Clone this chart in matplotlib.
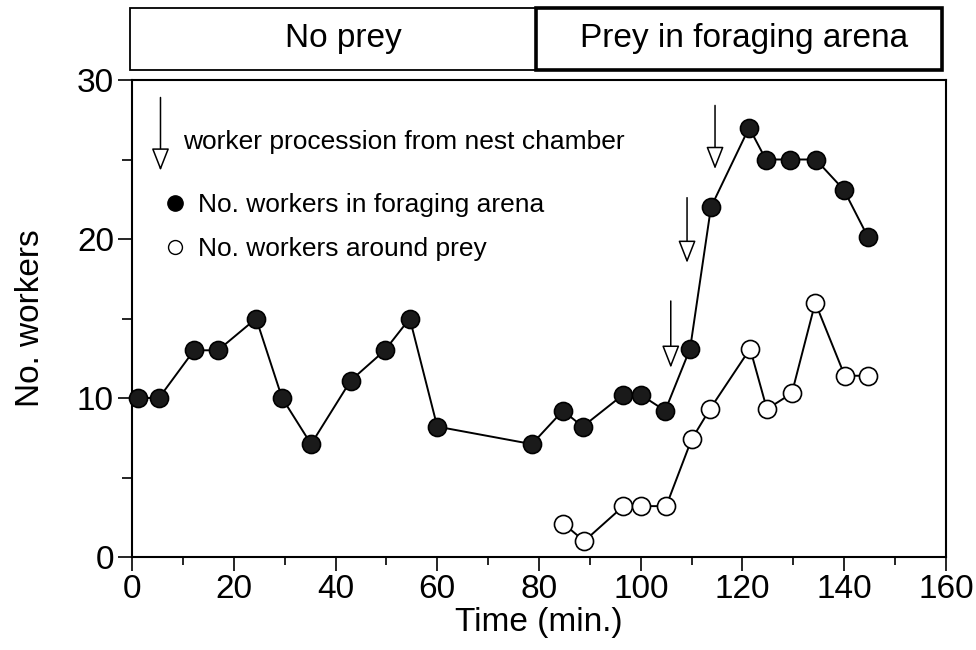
import numpy as np
import matplotlib.pyplot as plt
from matplotlib.lines import Line2D
from matplotlib.patches import Rectangle
from matplotlib.ticker import MultipleLocator

plt.rcParams['font.family'] = ['Liberation Sans', 'DejaVu Sans']

# workers in foraging arena (filled)
t_arena = [1.2, 5.3, 12.2, 16.9, 24.4, 29.5, 35.2, 43.0, 49.7, 54.6, 60.0,
           78.6, 84.7, 88.6, 96.5, 100.0, 104.8, 109.7, 113.8, 121.3, 124.6,
           129.3, 134.4, 139.9, 144.7]
n_arena = [10, 10, 13, 13, 15, 10, 7.1, 11.1, 13, 15, 8.2,
           7.1, 9.2, 8.2, 10.2, 10.2, 9.2, 13.1, 22, 27, 25,
           25, 25, 23.1, 20.1]

# workers around prey (open)
t_prey = [84.8, 88.9, 96.6, 100.0, 105.0, 110.0, 113.6, 121.5, 124.8, 129.7,
          134.3, 140.1, 144.7]
n_prey = [2.1, 1.0, 3.2, 3.2, 3.2, 7.4, 9.3, 13.1, 9.3, 10.3, 16.0, 11.4, 11.4]

# worker procession arrows
arrow_x = [5.6, 105.9, 109.1, 114.6]
arrow_top = [28.9, 16.1, 22.6, 28.4]
arrow_tip = [24.3, 11.9, 18.5, 24.4]

phases = ["No prey", "Prey in foraging arena"]


def main():
    fig = plt.figure(figsize=(9.76, 6.5), dpi=100)
    ax = fig.add_axes([132 / 976, 1 - 557 / 650, (946 - 132) / 976, (557 - 80) / 650])

    ax.plot(t_arena, n_arena, '-o', color='black', lw=1.4, ms=13,
            mfc='#1a1a1a', mec='black', mew=1.2, zorder=3, clip_on=False)
    ax.plot(t_prey, n_prey, '-o', color='black', lw=1.4, ms=13,
            mfc='white', mec='black', mew=1.2, zorder=3)

    for x, top, tip in zip(arrow_x, arrow_top, arrow_tip):
        ax.annotate('', xy=(x, tip), xytext=(x, top),
                    arrowprops=dict(arrowstyle='-|>,head_length=1.4,head_width=0.55',
                                    mutation_scale=10, fc='white', ec='black',
                                    lw=1.1, shrinkA=0, shrinkB=0))

    ax.text(10.0, 26.1, "worker procession from nest chamber", fontsize=19,
            va='center', ha='left')

    handles = [Line2D([], [], marker='o', ls='none', ms=11, mfc='black', mec='black'),
               Line2D([], [], marker='o', ls='none', ms=10, mfc='white', mec='black')]
    ax.legend(handles, ["No. workers in foraging arena", "No. workers around prey"],
              loc='upper left', bbox_to_anchor=(3.7, 23.7), bbox_transform=ax.transData,
              frameon=False, fontsize=19, handlelength=0.8, handletextpad=0.5,
              labelspacing=0.75, borderpad=0)

    ax.set_xlim(0, 160)
    ax.set_ylim(0, 30)
    ax.xaxis.set_major_locator(MultipleLocator(20))
    ax.xaxis.set_minor_locator(MultipleLocator(10))
    ax.yaxis.set_major_locator(MultipleLocator(10))
    ax.yaxis.set_minor_locator(MultipleLocator(5))
    ax.tick_params(axis='x', which='major', direction='out', length=10, width=1.2,
                   labelsize=24, pad=2)
    ax.tick_params(axis='x', which='minor', direction='out', length=6, width=1.2)
    ax.tick_params(axis='y', which='major', direction='out', length=10, width=1.2,
                   labelsize=24, pad=3)
    ax.tick_params(axis='y', which='minor', direction='out', length=7, width=1.2)
    for s in ax.spines.values():
        s.set_linewidth(1.5)

    ax.set_xlabel("Time (min.)", fontsize=24, labelpad=2)
    ax.set_ylabel("No. workers", fontsize=24, labelpad=22)

    # header boxes
    hx = fig.add_axes([130 / 976, 1 - 70 / 650, (942 - 130) / 976, 62 / 650])
    hx.set_xlim(0, 160)
    hx.set_ylim(0, 1)
    hx.axis('off')
    hx.add_patch(Rectangle((0, 0), 80, 1, fill=False, ec='black', lw=1.3, clip_on=False))
    hx.add_patch(Rectangle((80, 0), 80, 1, fill=False, ec='black', lw=2.6, clip_on=False))
    hx.text(42, 0.5, phases[0], fontsize=24, ha='center', va='center')
    hx.text(121, 0.5, phases[1], fontsize=24, ha='center', va='center')

    fig.savefig("out.png", dpi=100)


if __name__ == "__main__":
    main()
